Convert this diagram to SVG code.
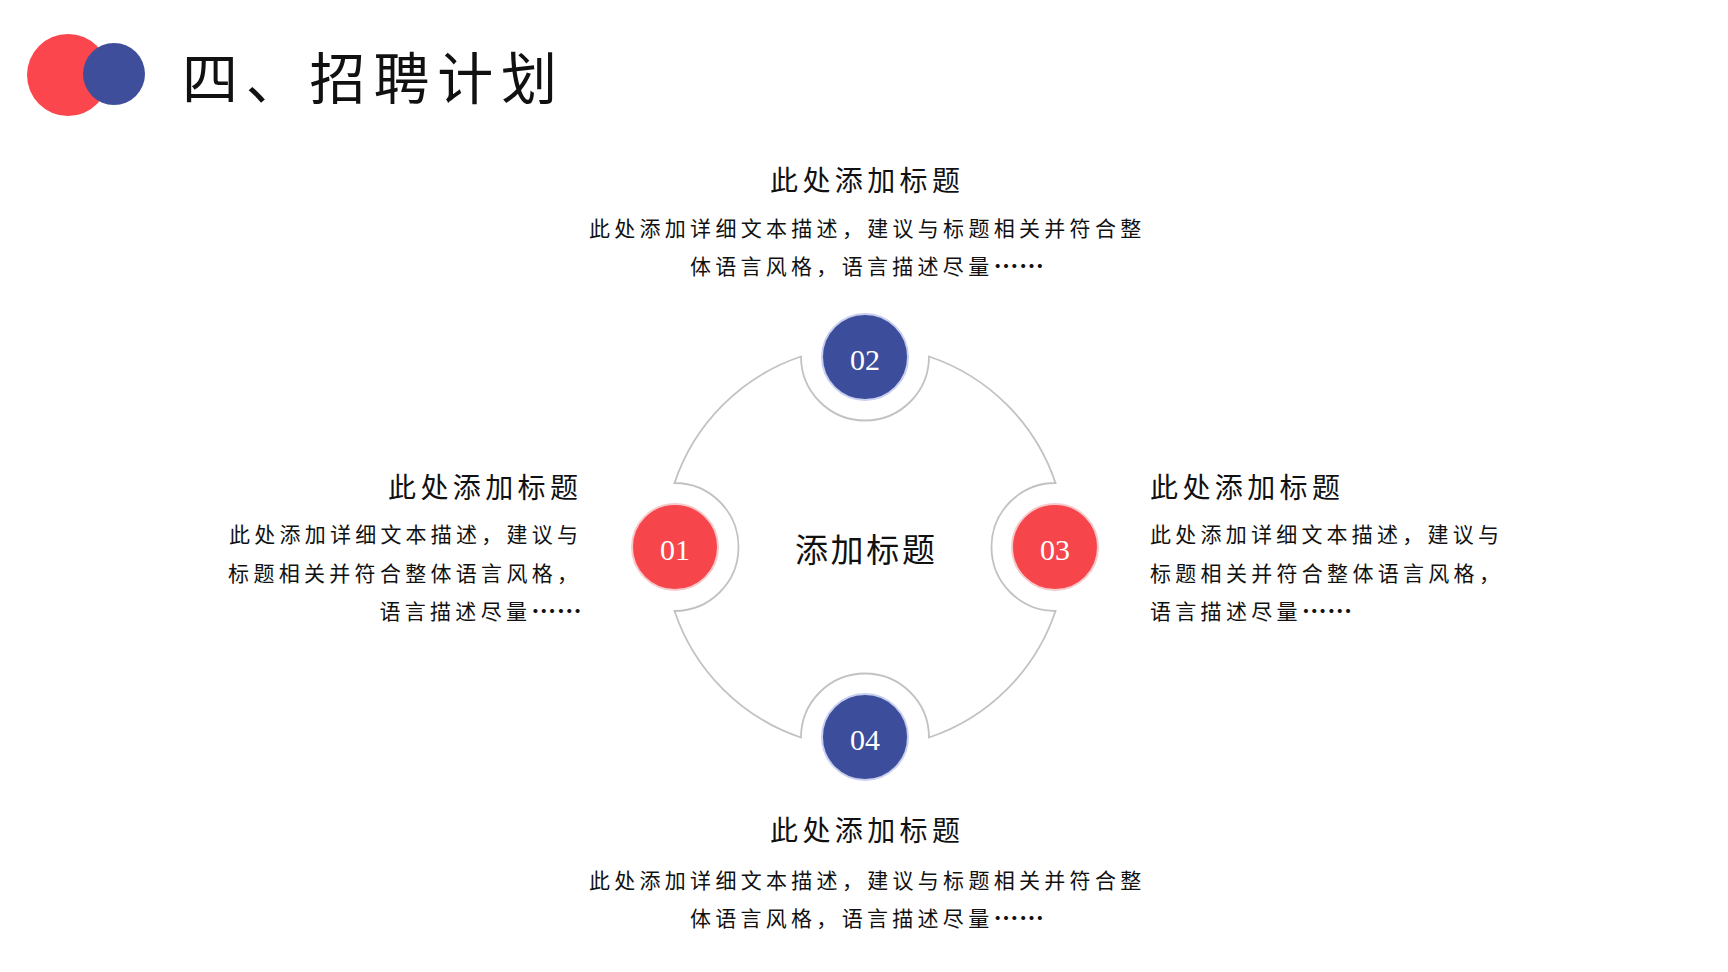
<svg xmlns="http://www.w3.org/2000/svg" width="1728" height="972" viewBox="0 0 1728 972">
<style>
.cjk{font-family:"Liberation Serif","Noto Sans CJK SC",serif;fill:#111111}
.head{font-size:28px;letter-spacing:4.4px}
.desc{font-size:21px;letter-spacing:4.3px}
.fit{letter-spacing:0px}
.dots{font-family:"Noto Sans CJK SC",sans-serif;font-size:25px;letter-spacing:0.5px;font-weight:bold}
.num{font-family:"Liberation Serif",serif;font-size:30px;fill:#ffffff;text-anchor:middle}
.red{fill:#F7454C;stroke:#f6c9cb;stroke-width:2}
.blue{fill:#3C4D9B;stroke:#c9cfee;stroke-width:2}
.ring{fill:none;stroke:#c2c2c2;stroke-width:1.8}
</style>
<rect width="1728" height="972" fill="#ffffff"/>
<g id="title">
<circle cx="68" cy="75" r="41" fill="#FC464E"/>
<circle cx="114" cy="74" r="31" fill="#3F4E9A"/>
<text class="cjk" x="182" y="99" font-size="56" letter-spacing="7.8">四、招聘计划</text>
</g>
<g id="connectors">
<path class="ring" d="M801,356.5 A64,64 0 1 0 929,356.5 A201,201 0 0 1 1055.5,483 A64,64 0 1 0 1055.5,611 A201,201 0 0 1 929,737.5 A64,64 0 1 0 801,737.5 A201,201 0 0 1 674.5,611 A64,64 0 1 0 674.5,483 A201,201 0 0 1 801,356.5 Z"/>
</g>
<g id="center">
<text class="cjk" x="866.3" y="562" font-size="33" letter-spacing="2.7" text-anchor="middle">添加标题</text>
</g>
<g id="node01">
<circle class="red" cx="675" cy="547" r="43"/>
<text class="num" x="675" y="560">01</text>
</g>
<g id="node02">
<circle class="blue" cx="865" cy="357" r="43"/>
<text class="num" x="865" y="370">02</text>
</g>
<g id="node03">
<circle class="red" cx="1055" cy="547" r="43"/>
<text class="num" x="1055" y="560">03</text>
</g>
<g id="node04">
<circle class="blue" cx="865" cy="737" r="43"/>
<text class="num" x="865" y="750">04</text>
</g>
<g id="text02">
<text class="cjk head" x="867.2" y="191" text-anchor="middle">此处添加标题</text>
<text class="cjk desc" x="867.2" y="235.5" text-anchor="middle">此处添加详细文本描述，建议与标题相关并符合整</text>
<text class="cjk desc" x="867.2" y="274" text-anchor="middle">体语言风格，语言描述尽量<tspan class="dots" dy="2">……</tspan></text>
</g>
<g id="text01">
<text class="cjk head" x="582.4" y="498" text-anchor="end">此处添加标题</text>
<text class="cjk desc fit" x="578" y="542" text-anchor="end" textLength="349" lengthAdjust="spacing">此处添加详细文本描述，建议与</text>
<text class="cjk desc" x="582.3" y="581" text-anchor="end">标题相关并符合整体语言风格，</text>
<text class="cjk desc" x="582.3" y="619" text-anchor="end">语言描述尽量<tspan class="dots" dy="2">……</tspan></text>
</g>
<g id="text03">
<text class="cjk head" x="1150" y="498">此处添加标题</text>
<text class="cjk desc fit" x="1150" y="542" textLength="349" lengthAdjust="spacing">此处添加详细文本描述，建议与</text>
<text class="cjk desc" x="1150" y="581">标题相关并符合整体语言风格，</text>
<text class="cjk desc" x="1150" y="619">语言描述尽量<tspan class="dots" dy="2">……</tspan></text>
</g>
<g id="text04">
<text class="cjk head" x="867.2" y="841" text-anchor="middle">此处添加标题</text>
<text class="cjk desc" x="867.2" y="887.5" text-anchor="middle">此处添加详细文本描述，建议与标题相关并符合整</text>
<text class="cjk desc" x="867.2" y="926" text-anchor="middle">体语言风格，语言描述尽量<tspan class="dots" dy="2">……</tspan></text>
</g>
</svg>
